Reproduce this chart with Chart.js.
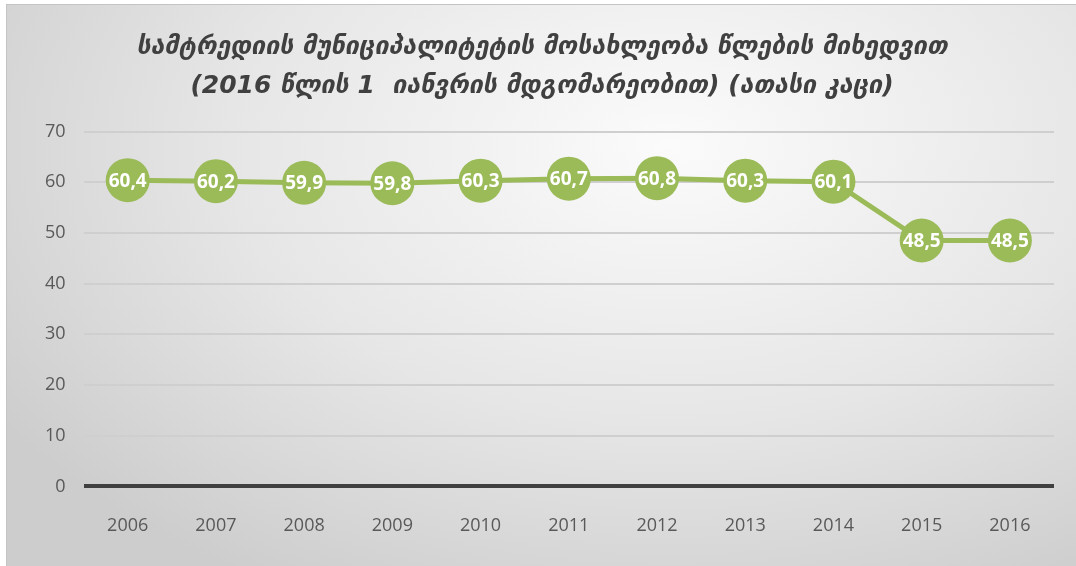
<!DOCTYPE html>
<html>
<head>
<meta charset="utf-8">
<script src="https://cdn.jsdelivr.net/npm/chart.js@4.4.1/dist/chart.umd.min.js"></script>
<style>
  html, body { margin: 0; padding: 0; background: #fff; }
  #wrap {
    position: absolute; left: 6px; top: 4px; width: 1070px; height: 562px;
    background: radial-gradient(ellipse 75% 90% at 62% 25%, #fbfbfb 0%, #e6e6e6 55%, #cdcdcd 100%);
    border-top: 1px solid #c4c4c4; border-left: 1px solid #c4c4c4;
    box-sizing: border-box;
  }
</style>
</head>
<body>
<div id="wrap"><canvas id="chart" width="1069" height="561"></canvas></div>
<script>
const years = ["2006", "2007", "2008", "2009", "2010", "2011", "2012", "2013", "2014", "2015", "2016"];
const population = [60.4, 60.2, 59.9, 59.8, 60.3, 60.7, 60.8, 60.3, 60.1, 48.5, 48.5];
const titleLines = [
  "სამტრედიის მუნიციპალიტეტის მოსახლეობა წლების მიხედვით",
  "(2016 წლის 1  იანვრის მდგომარეობით) (ათასი კაცი)"
];

// labels inside the circles, comma as decimal mark
const pointLabels = {
  id: "pointLabels",
  afterDatasetsDraw(chart) {
    const ctx = chart.ctx;
    const meta = chart.getDatasetMeta(0);
    ctx.save();
    ctx.font = "bold 19px 'Open Sans', sans-serif";
    ctx.fillStyle = "#ffffff";
    ctx.textAlign = "center";
    ctx.textBaseline = "middle";
    meta.data.forEach((pt, i) => {
      ctx.fillText(population[i].toFixed(1).replace(".", ","), pt.x, pt.y + 1);
    });
    ctx.restore();
  }
};

new Chart(document.getElementById("chart").getContext("2d"), {
  type: "line",
  data: {
    labels: years,
    datasets: [{
      data: population,
      borderColor: "#9bbb59",
      backgroundColor: "#9bbb59",
      borderWidth: 5,
      pointRadius: 22,
      pointHoverRadius: 22,
      pointBorderWidth: 0,
      tension: 0
    }]
  },
  options: {
    responsive: false,
    animation: false,
    layout: { padding: { left: 20, right: 19, top: 10, bottom: 8 } },
    plugins: {
      legend: { display: false },
      tooltip: { enabled: false },
      title: {
        display: true,
        text: titleLines,
        color: "#404040",
        font: { family: "'DejaVu Sans'", size: 25, style: "italic", weight: "bold", lineHeight: 1.55 },
        padding: { top: 13, bottom: 26 }
      }
    },
    scales: {
      x: {
        offset: true,
        grid: { display: false },
        border: { display: false },
        ticks: { color: "#595959", font: { family: "'Open Sans'", size: 18 }, padding: 21 },
      },
      y: {
        min: 0,
        max: 70,
        ticks: { stepSize: 10, color: "#595959", font: { family: "'Open Sans'", size: 18 }, padding: 18 },
        border: { display: false },
        grid: {
          drawTicks: false,
          color: ctx => ctx.tick.value === 0 ? "#404040" : "#cfcfcf",
          lineWidth: ctx => ctx.tick.value === 0 ? 4 : 2
        }
      }
    }
  },
  plugins: [pointLabels]
});
</script>
</body>
</html>
